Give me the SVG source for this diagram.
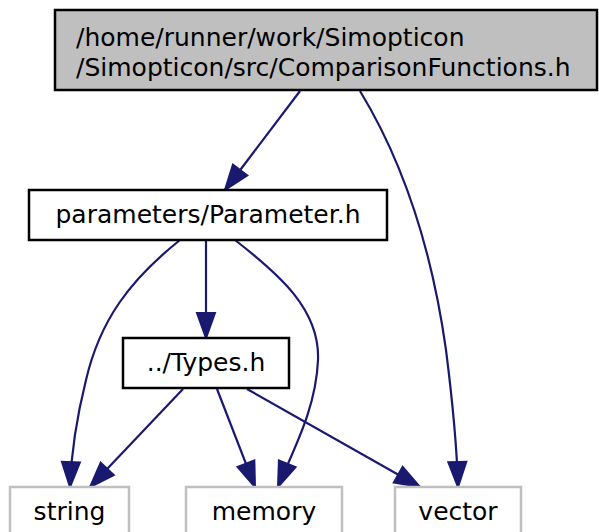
<svg xmlns="http://www.w3.org/2000/svg" width="599" height="532" viewBox="0 0 599 532">
<style>
text{font-family:"DejaVu Sans",sans-serif;font-size:25px;fill:#000}
.n{fill:#fff;stroke:#000;stroke-width:2.5}
.g{fill:#fff;stroke:#bfbfbf;stroke-width:2.5}
.e{fill:none;stroke:#191970;stroke-width:2.2}
</style>
<defs>
<marker id="a" markerUnits="userSpaceOnUse" markerWidth="30" markerHeight="24" refX="25" refY="11" orient="auto" overflow="visible">
<path d="M0,2 L25,11 L0,20 z" fill="#191970" stroke="#191970" stroke-width="2"/>
</marker>
</defs>
<rect width="599" height="532" fill="#fff"/>
<g id="edges">
<path class="e" marker-end="url(#a)" d="M300,91 L225,190"/>
<path class="e" marker-end="url(#a)" d="M360,91 C405,165 432,250 446,350 C453,405 457,450 458,487"/>
<path class="e" marker-end="url(#a)" d="M180,240 C130,280 100,320 86,380 C76,420 71,460 70,487"/>
<path class="e" marker-end="url(#a)" d="M206,240 L206,338"/>
<path class="e" marker-end="url(#a)" d="M235,240 C280,275 320,310 318,360 C316,410 292,452 278,487"/>
<path class="e" marker-end="url(#a)" d="M183,389 L90,487"/>
<path class="e" marker-end="url(#a)" d="M217,389 L255,487"/>
<path class="e" marker-end="url(#a)" d="M247,389 L420,487"/>
</g>
<g id="node1"><rect x="55" y="10" width="542" height="80" fill="#bfbfbf" stroke="#000" stroke-width="2.5"/>
<text x="76" y="45.5">/home/runner/work/Simopticon</text>
<text x="76" y="75.5">/Simopticon/src/ComparisonFunctions.h</text></g>
<g id="node2"><rect class="n" x="29" y="190" width="358" height="50"/>
<text x="208" y="223" text-anchor="middle">parameters/Parameter.h</text></g>
<g id="node3"><rect class="n" x="123" y="338" width="166" height="50"/>
<text x="206" y="371" text-anchor="middle">../Types.h</text></g>
<g id="node4"><rect class="g" x="10" y="487" width="119" height="50"/>
<text x="69.5" y="520" text-anchor="middle">string</text></g>
<g id="node5"><rect class="g" x="186" y="487" width="156" height="50"/>
<text x="264" y="520" text-anchor="middle">memory</text></g>
<g id="node6"><rect class="g" x="395" y="487" width="126" height="50"/>
<text x="458" y="520" text-anchor="middle">vector</text></g>
</svg>
